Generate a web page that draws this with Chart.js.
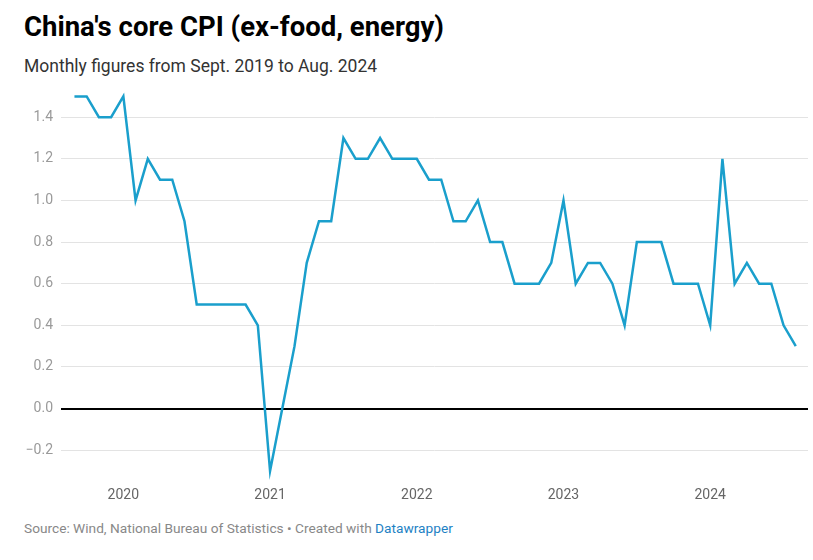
<!DOCTYPE html>
<html lang="en">
<head>
	<meta charset="utf-8">
	<title>China's core CPI</title>
	<style>
body {
	margin: 0;
	width: 813px;
	height: 560px;
	background: #fff;
	font-family: Roboto, sans-serif;
	position: relative;
}
h1 {
	position: absolute;
	left: 24px;
	top: 10px;
	margin: 0;
	font-size: 27.5px;
	font-weight: 700;
	color: #000;
}
.sub {
	position: absolute;
	left: 24px;
	top: 56px;
	font-size: 17.5px;
	color: #333;
}
#chartWrapper {
	position: absolute;
	left: 0;
	top: 80px;
	width: 813px;
	height: 421px;
}
.notes {
	position: absolute;
	left: 24px;
	top: 520px;
	font-size: 13.7px;
	color: #888;
}
.notes span { color: #1d81c4; }
	</style>
</head>
<body>

<h1>China's core CPI (ex-food, energy)</h1>
<div class="sub">Monthly figures from Sept. 2019 to Aug. 2024</div>
<div id="chartWrapper">
  <canvas id="myChart"></canvas>
</div>
<div class="notes">Source: Wind, National Bureau of Statistics • Created with <span>Datawrapper</span></div>

<script src="https://cdn.jsdelivr.net/npm/chart.js"></script>
<script>
// months from Sept. 2019 (index 0) to Aug. 2024 (index 59)
const coreCpi = [
	1.5, 1.5, 1.4, 1.4,
	1.5, 1.0, 1.2, 1.1, 1.1, 0.9, 0.5, 0.5, 0.5, 0.5, 0.5, 0.4,
	-0.3, 0.0, 0.3, 0.7, 0.9, 0.9, 1.3, 1.2, 1.2, 1.3, 1.2, 1.2,
	1.2, 1.1, 1.1, 0.9, 0.9, 1.0, 0.8, 0.8, 0.6, 0.6, 0.6, 0.7,
	1.0, 0.6, 0.7, 0.7, 0.6, 0.4, 0.8, 0.8, 0.8, 0.6, 0.6, 0.6,
	0.4, 1.2, 0.6, 0.7, 0.6, 0.6, 0.4, 0.3
];
const yearLabels = ['2020', '2021', '2022', '2023', '2024'];
const yearIndex = [4, 16, 28, 40, 52];
const yTicks = [-0.2, 0, 0.2, 0.4, 0.6, 0.8, 1.0, 1.2, 1.4];

const points = coreCpi.map((v, i) => ({x: i, y: v}));

new Chart(document.getElementById('myChart'), {
	type: 'line',
	data: {
		datasets: [{
			data: points,
			borderColor: '#1a9fcc',
			borderWidth: 2.5,
			pointRadius: 0,
			tension: 0,
			clip: false
		}]
	},
	options: {
		responsive: true,
		maintainAspectRatio: false,
		animation: false,
		layout: { padding: { top: 15, right: 5, left: 0, bottom: 0 } },
		plugins: {
			legend: { display: false },
			tooltip: { enabled: false }
		},
		scales: {
			x: {
				type: 'linear',
				min: -1.1,
				max: 60,
				afterBuildTicks: s => { s.ticks = yearIndex.map(v => ({value: v})); },
				afterFit: s => { s.height = 30; },
				grid: { display: false },
				border: { display: false },
				ticks: {
					padding: 8,
					color: '#666',
					font: { family: 'Roboto', size: 14 },
					callback: v => yearLabels[yearIndex.indexOf(v)]
				}
			},
			y: {
				min: -0.3,
				max: 1.5,
				afterBuildTicks: s => { s.ticks = yTicks.map(v => ({value: v})); },
				afterFit: s => { s.width = 61; },
				border: { display: false },
				grid: {
					drawTicks: false,
					color: c => c.tick && c.tick.value === 0 ? '#000' : '#e3e3e3',
					lineWidth: c => c.tick && c.tick.value === 0 ? 2 : 1
				},
				ticks: {
					padding: 8,
					color: '#9a9a9a',
					font: { family: 'Roboto', size: 14 },
					callback: v => v < 0 ? '\u2212' + Math.abs(v).toFixed(1) : v.toFixed(1)
				}
			}
		}
	}
});
</script>
</body>
</html>
